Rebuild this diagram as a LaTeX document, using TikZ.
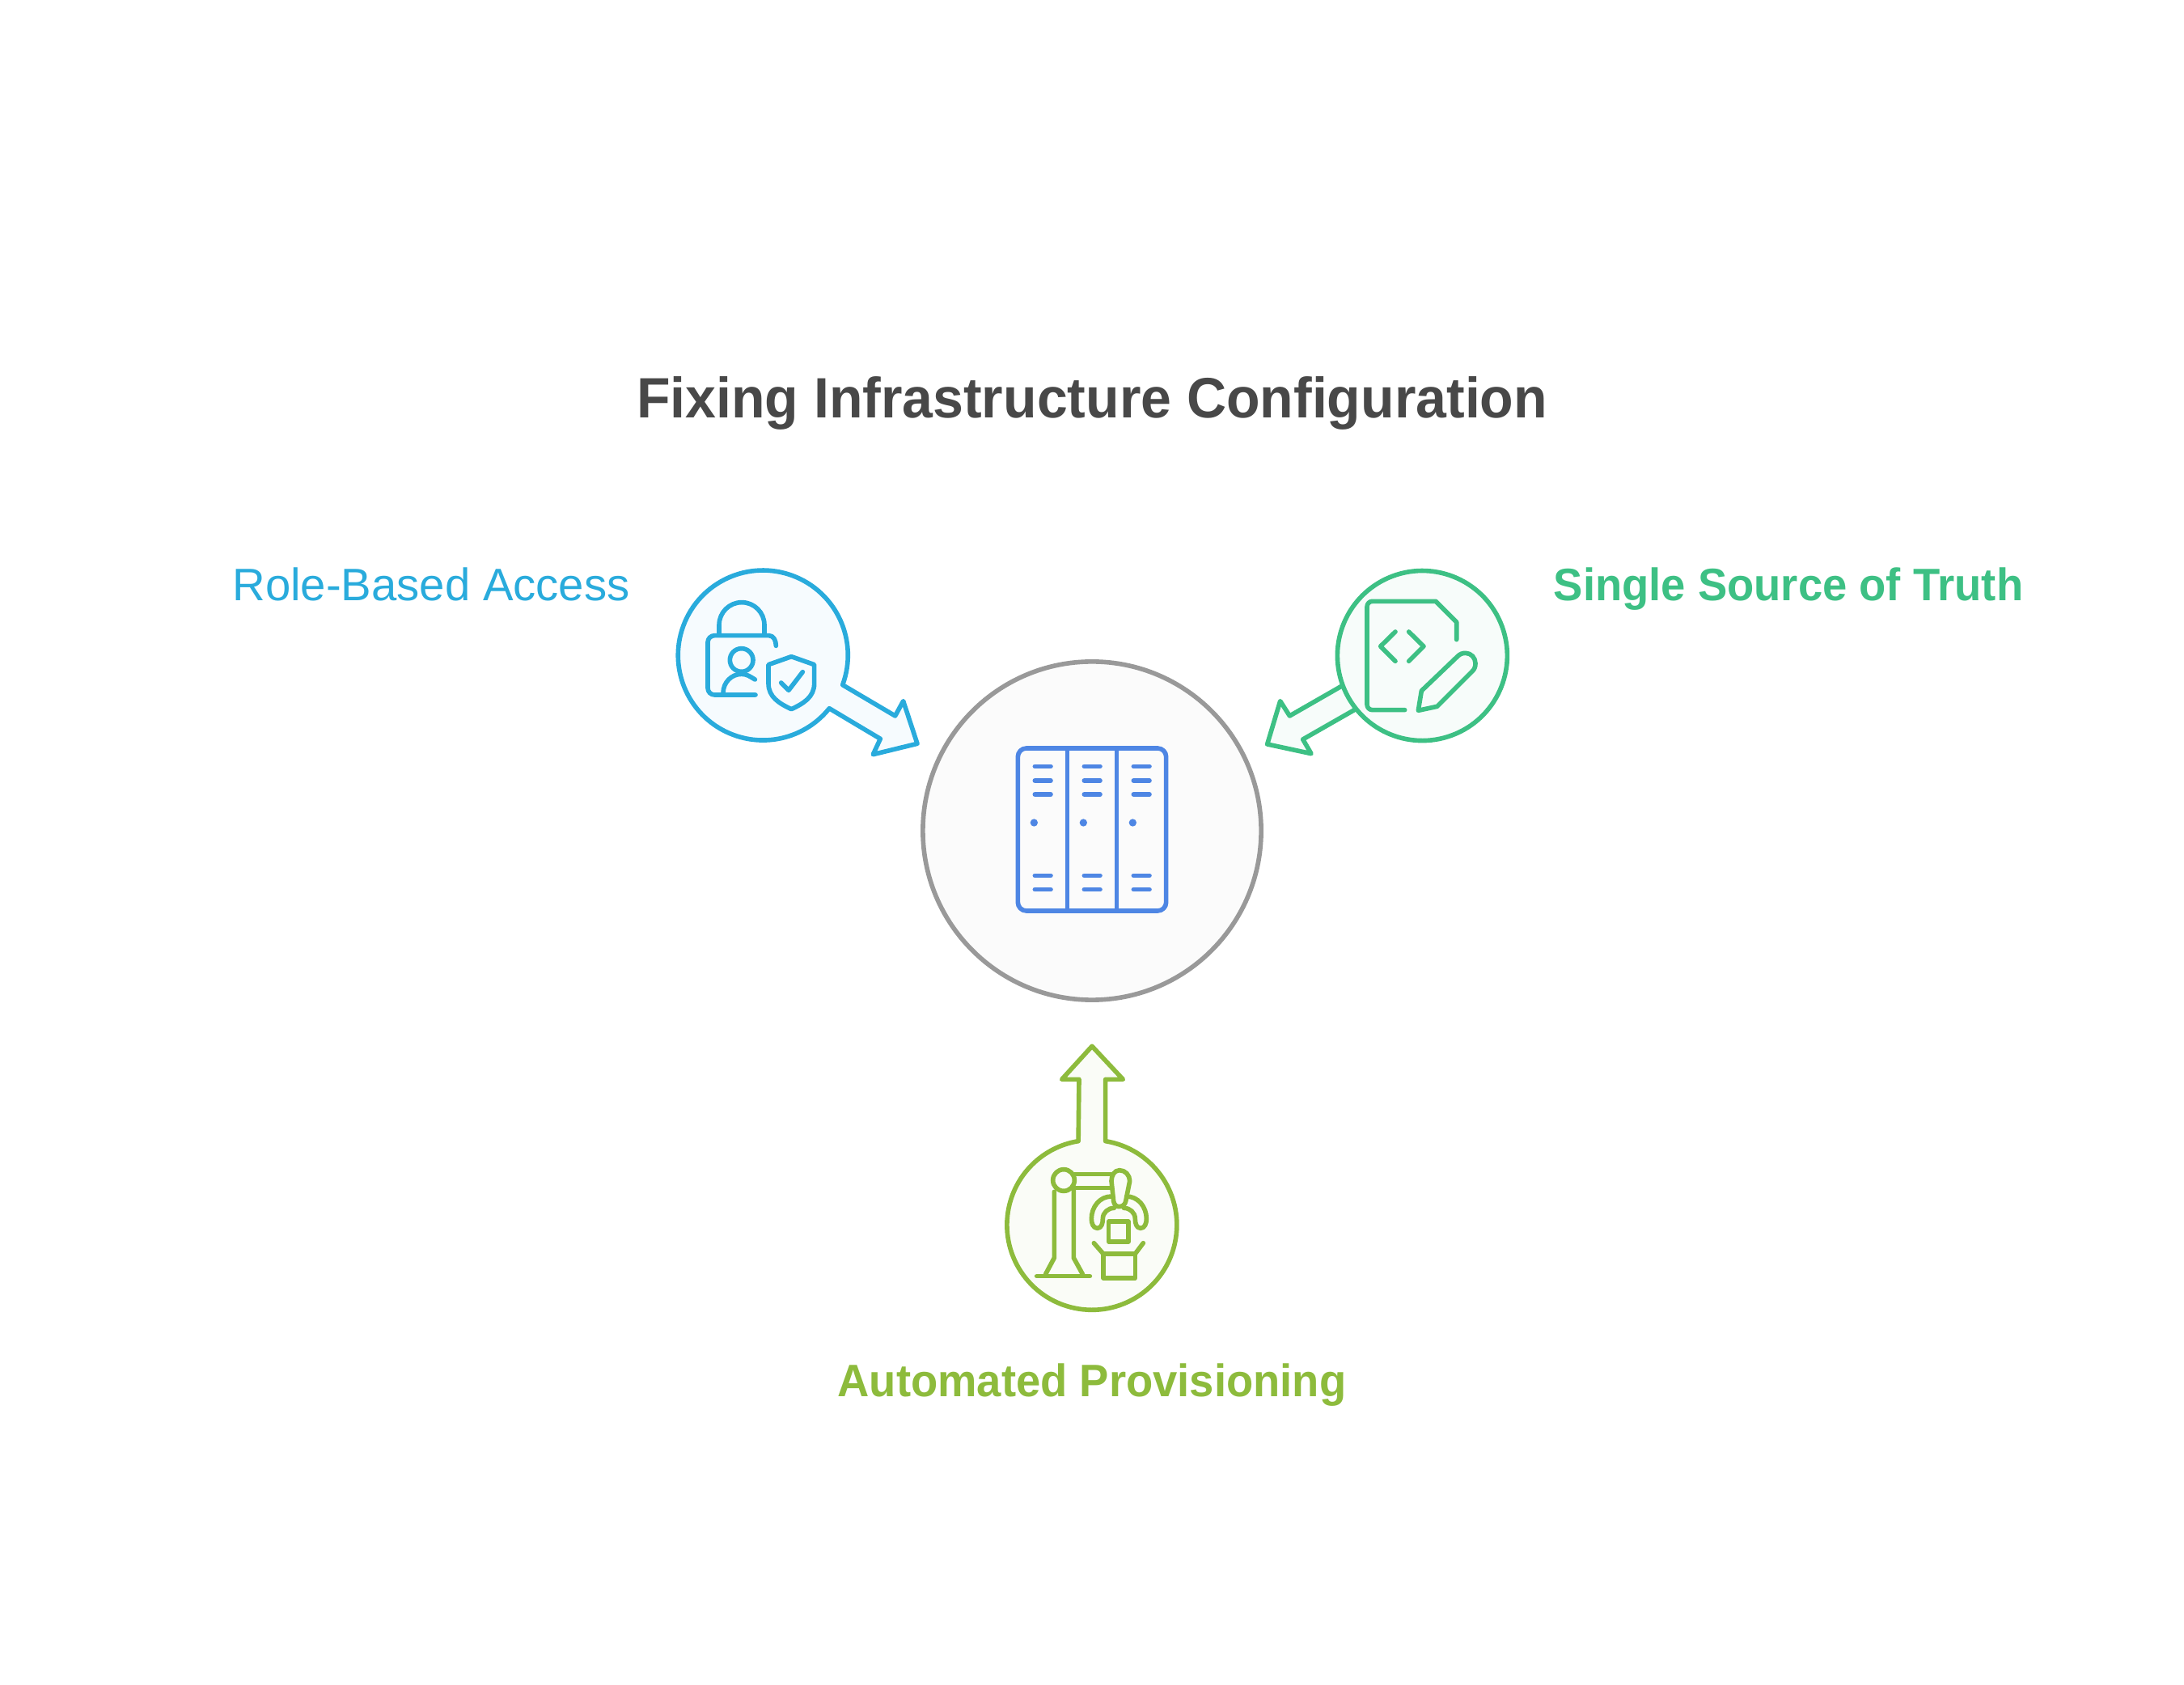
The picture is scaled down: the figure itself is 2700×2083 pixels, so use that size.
\documentclass[tikz,border=0pt]{standalone}
\usepackage{fontspec}
\setmainfont{Liberation Sans}
\newfontfamily\headfont[FakeStretch=0.967]{Liberation Sans}
\definecolor{bluec}{HTML}{29ABDC}
\definecolor{bluef}{HTML}{F6FBFE}
\definecolor{greenc}{HTML}{3DC084}
\definecolor{greenf}{HTML}{F7FCFA}
\definecolor{olivec}{HTML}{8DBB3C}
\definecolor{olivef}{HTML}{FAFCF7}
\definecolor{rackc}{HTML}{4E86E4}
\definecolor{ringc}{HTML}{999999}
\definecolor{ringf}{HTML}{FBFBFB}
\definecolor{titlec}{HTML}{484848}
\tikzset{
  ln/.style={line width=1.6pt, line cap=round, line join=round},
  lbl/.style={font=\fontsize{16}{20}\selectfont, inner sep=0pt, anchor=base},
  lblb/.style={font=\headfont\fontsize{16}{20}\bfseries\selectfont, inner sep=0pt, anchor=base},
}
\begin{document}
\begin{tikzpicture}[x=0.01cm, y=-0.01cm]
\useasboundingbox (0,0) rectangle (2700,2083);
\node (title) [font=\headfont\fontsize{20}{24}\bfseries\selectfont, text=titlec, inner sep=0pt, anchor=base] at (1350,517) {Fixing Infrastructure Configuration};
\node (role) [lbl, text=bluec] at (533,743) {Role-Based Access};
\node (truth) [lblb, text=greenc] at (2211,743) {Single Source of Truth};
\node (auto) [lblb, text=olivec] at (1350,1726) {Automated Provisioning};
% hub
\node (hub) [circle, draw=ringc, fill=ringf, line width=1.6pt, minimum size=4.18cm, inner sep=0pt] at (1350,1027) {};
\begin{scope}[shift={(1240,910)}, scale=1/3, ln, draw=rackc]
\draw [rounded corners=3pt] (55,45) rectangle (605,648);
\draw (238,45) -- (238,648);
\draw (422,45) -- (422,648);
\foreach \dx in {0,183,366} {
  \foreach \dy in {112,165,216,517,569}
    \draw (118+\dx,\dy) -- (177+\dx,\dy);
  \fill [rackc] (115+\dx,321) circle [radius=14];
}
\end{scope}
% access
\begin{scope}[shift={(820,690)}, scale=1/3, ln, draw=bluec]
\draw [fill=bluef] (665,470) arc [start angle=20.4, end angle=-321.3, radius=315] -- (805,670) -- (778,728) -- (942,688) -- (890,530) -- (860,585) -- cycle;
\draw (418,325) to [out=90,in=0] (392,287) -- (190,287) to [out=180,in=90] (165,312) -- (165,482) to [out=-90,in=180] (190,507) -- (342,507);
\draw (207,280) -- (207,248) arc [start angle=180, end angle=360, radius=84] -- (375,280);
\draw (290,378) circle [radius=43];
\draw (222,500) to [out=90,in=180] (290,430) to [out=0,in=150] (340,450);
\draw (475,365) -- (560,395) -- (560,465) to [out=-90,in=25] (475,560) to [out=155,in=-90] (390,465) -- (390,395) -- cycle;
\draw (437,462) -- (465,490) -- (517,422);
\end{scope}
% source
\begin{scope}[shift={(1560,690)}, scale=1/3, ln, draw=greenc]
\draw [fill=greenf] (300,472) arc [start angle=159.5, end angle=-218.8, radius=315] -- (152,672) -- (183,725) -- (20,690) -- (68,530) -- (103,585) -- cycle;
\draw (530,563) -- (410,563) to [out=180,in=-90] (390,543) -- (390,180) to [out=90,in=180] (410,160) -- (645,160) -- (722,237) -- (722,302);
\draw (495,273) -- (440,327) -- (495,382);
\draw (545,273) -- (600,327) -- (545,382);
\draw (580,565) -- (592,492) -- (725,365) to [out=45,in=180] (755,352) to [out=0,in=90] (792,390) to [out=-90,in=45] (780,420) -- (650,550) -- cycle;
\end{scope}
% provisioning
\begin{scope}[shift={(1220,1280)}, scale=1/3, ln, draw=olivec]
\draw [fill=olivef] (440,392) arc [start angle=-80.8, end angle=260.8, radius=315] -- (342,163) -- (278,163) -- (390,40) -- (505,163) -- (440,163) -- cycle;
\draw (185,893) -- (382,893);
\draw (218,885) -- (250,825) -- (250,580);
\draw (355,885) -- (322,825) -- (322,575);
\draw (285,537) circle [radius=40];
\draw (325,515) -- (460,515);
\draw (325,565) -- (460,565);
\draw (490,635) to [out=180,in=-80] (470,615) -- (462,540) to [out=90,in=180] (492,500) to [out=0,in=90] (530,540) -- (515,615) to [out=-100,in=0] cycle;
\draw (462,597) to [out=180,in=90] (388,680) to [out=-90,in=180] (410,715) to [out=0,in=-90] (430,680) to [out=90,in=180] (472,640);
\draw (518,597) to [out=0,in=90] (592,680) to [out=-90,in=0] (570,715) to [out=180,in=-90] (550,680) to [out=90,in=0] (508,640);
\draw (452,690) rectangle (525,765);
\draw (432,810) rectangle (550,900);
\draw (397,770) -- (432,810);
\draw (580,770) -- (550,810);
\end{scope}
\end{tikzpicture}
\end{document}
